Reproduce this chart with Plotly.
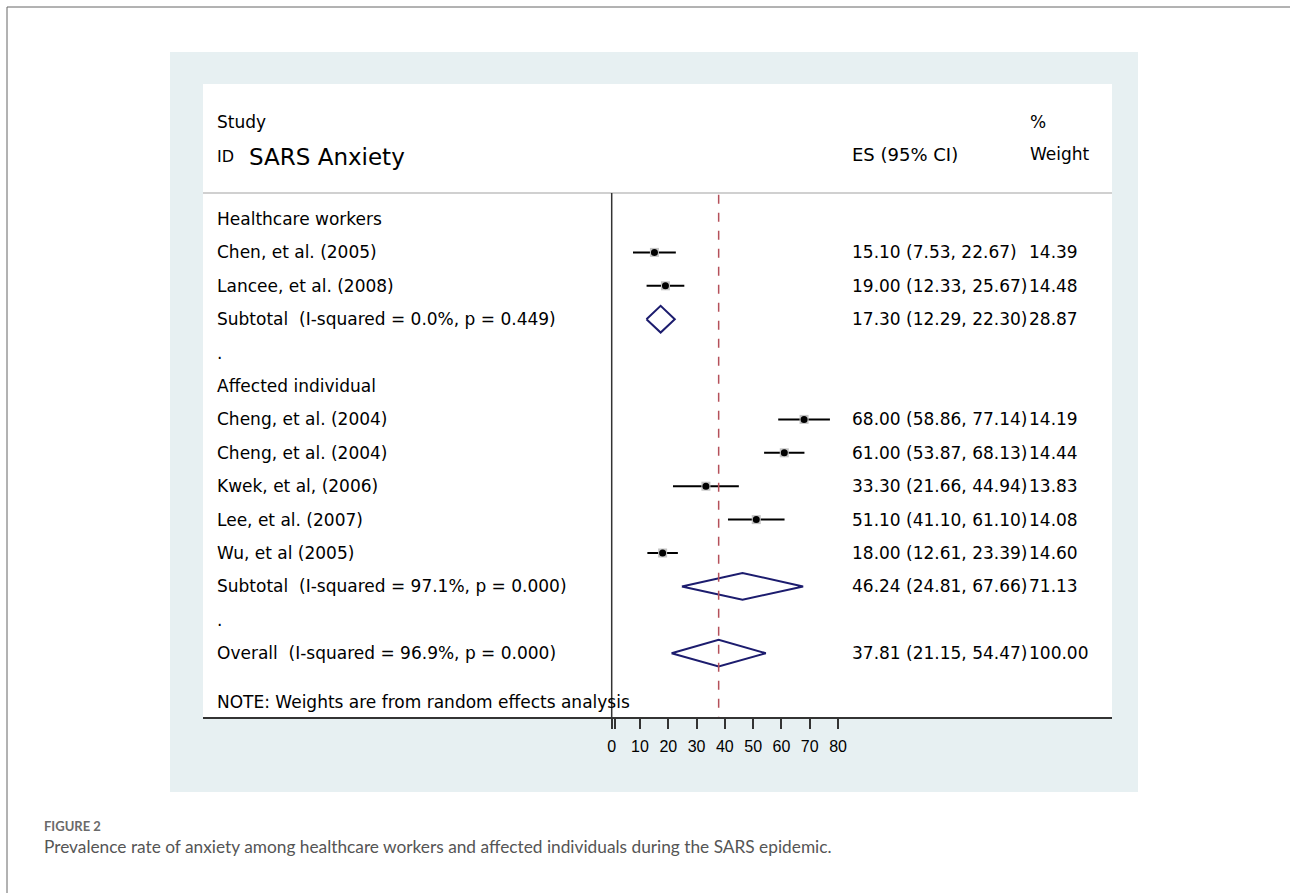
import plotly.graph_objects as go

# ---------------- data ----------------
study_names = ["Chen, et al. (2005)", "Lancee, et al. (2008)",
               "Cheng, et al. (2004)", "Cheng, et al. (2004)",
               "Kwek, et al, (2006)", "Lee, et al. (2007)", "Wu, et al (2005)"]
study_group = ["hcw", "hcw", "aff", "aff", "aff", "aff", "aff"]
study_es = [15.10, 19.00, 68.00, 61.00, 33.30, 51.10, 18.00]
study_lo = [7.53, 12.33, 58.86, 53.87, 21.66, 41.10, 12.61]
study_hi = [22.67, 25.67, 77.14, 68.13, 44.94, 61.10, 23.39]
study_weight = [14.39, 14.48, 14.19, 14.44, 13.83, 14.08, 14.60]

pooled_labels = ["Subtotal  (I-squared = 0.0%, p = 0.449)",
                 "Subtotal  (I-squared = 97.1%, p = 0.000)",
                 "Overall  (I-squared = 96.9%, p = 0.000)"]
pooled_es = [17.30, 46.24, 37.81]
pooled_lo = [12.29, 24.81, 21.15]
pooled_hi = [22.30, 67.66, 54.47]
pooled_weight = [28.87, 71.13, 100.00]

group_titles = ["Healthcare workers", "Affected individual"]
tick_vals = [0, 1, 10, 20, 30, 40, 50, 60, 70, 80]
tick_text = ["0", "", "10", "20", "30", "40", "50", "60", "70", "80"]

# ---------------- layout helpers (pixel geometry) ----------------
W, H = 1290, 893
L, R, T, B = 203, 1112, 84, 717          # white plotting box
X0PX, PXU = 611.7, 2.829                  # pixel of x=0, pixels per unit
ROW0, ROWH = 219.0, 33.4                  # first row centre, row height


def px2x(px):
    return (px - L) / (R - L)


def py2y(py):
    return (B - py) / (B - T)


def py2row(py):
    return (py - ROW0) / ROWH


x_min = (L - X0PX) / PXU
x_max = (R - X0PX) / PXU
row_top = py2row(T)
row_bot = py2row(B)

# build the row table
rows = []  # (kind, label, index)
rows.append(("group", group_titles[0], None))
for i, g in enumerate(study_group):
    if g == "hcw":
        rows.append(("study", study_names[i], i))
rows.append(("pooled", pooled_labels[0], 0))
rows.append(("dot", ".", None))
rows.append(("group", group_titles[1], None))
for i, g in enumerate(study_group):
    if g == "aff":
        rows.append(("study", study_names[i], i))
rows.append(("pooled", pooled_labels[1], 1))
rows.append(("dot", ".", None))
rows.append(("pooled", pooled_labels[2], 2))

TXT = "DejaVu Sans"
fig = go.Figure()
annotations = []
shapes = []

# background panel and white plotting box
shapes.append(dict(type="rect", xref="paper", yref="paper", layer="below",
                   x0=px2x(170), x1=px2x(1138), y0=py2y(792), y1=py2y(52),
                   fillcolor="#e7f0f2", line=dict(width=0)))
shapes.append(dict(type="rect", xref="paper", yref="paper", layer="below",
                   x0=0, x1=1, y0=0, y1=1, fillcolor="white", line=dict(width=0)))
# outer frame lines
shapes.append(dict(type="line", xref="paper", yref="paper",
                   x0=px2x(7), x1=px2x(W + 5), y0=py2y(7), y1=py2y(7),
                   line=dict(color="#666666", width=1)))
shapes.append(dict(type="line", xref="paper", yref="paper",
                   x0=px2x(7), x1=px2x(7), y0=py2y(7), y1=py2y(H + 5),
                   line=dict(color="#666666", width=1)))
# header separator
sep_row = py2row(193)
shapes.append(dict(type="line", xref="paper", yref="y",
                   x0=0, x1=1, y0=sep_row, y1=sep_row,
                   line=dict(color="#c0c0c0", width=1.5)))
# null line at 0
shapes.append(dict(type="line", xref="x", yref="y",
                   x0=0, x1=0, y0=sep_row, y1=row_bot,
                   line=dict(color="#333333", width=1.5)))
# overall effect dashed line
shapes.append(dict(type="line", xref="x", yref="y",
                   x0=pooled_es[2], x1=pooled_es[2], y0=sep_row + 0.05, y1=row_bot,
                   line=dict(color="#b5505a", width=1.5, dash="dash")))

# header texts
annotations += [
    dict(text="Study", x=px2x(215), y=py2row(122), font=dict(size=17)),
    dict(text="ID", x=px2x(215), y=py2row(156), font=dict(size=16)),
    dict(text="SARS Anxiety", x=px2x(247), y=py2row(157), font=dict(size=23)),
    dict(text="ES (95% CI)", x=px2x(850), y=py2row(154), font=dict(size=18)),
    dict(text="%", x=px2x(1028), y=py2row(122), font=dict(size=17)),
    dict(text="Weight", x=px2x(1028), y=py2row(154), font=dict(size=17)),
]

for k, (kind, label, idx) in enumerate(rows):
    annotations.append(dict(text=label, x=px2x(215), y=k, font=dict(size=17)))
    if kind == "study":
        e, lo, hi, w = study_es[idx], study_lo[idx], study_hi[idx], study_weight[idx]
        fig.add_trace(go.Scatter(x=[lo, hi], y=[k, k], mode="lines",
                                 line=dict(color="black", width=2),
                                 showlegend=False, hoverinfo="skip"))
        fig.add_trace(go.Scatter(x=[e], y=[k], mode="markers",
                                 marker=dict(symbol="square", size=9, color="#c4c4c4"),
                                 showlegend=False, hoverinfo="skip"))
        fig.add_trace(go.Scatter(x=[e], y=[k], mode="markers",
                                 marker=dict(symbol="circle", size=7, color="black"),
                                 showlegend=False, hoverinfo="skip"))
    elif kind == "pooled":
        e, lo, hi, w = pooled_es[idx], pooled_lo[idx], pooled_hi[idx], pooled_weight[idx]
        hh = 0.40
        fig.add_trace(go.Scatter(x=[lo, e, hi, e, lo], y=[k, k - hh, k, k + hh, k],
                                 mode="lines", line=dict(color="#1c1c6e", width=2),
                                 showlegend=False, hoverinfo="skip"))
    else:
        continue
    annotations.append(dict(text=f"{e:.2f} ({lo:.2f}, {hi:.2f})", x=px2x(850), y=k,
                            font=dict(size=17)))
    annotations.append(dict(text=f"{w:.2f}", x=px2x(1027), y=k, font=dict(size=17)))

annotations.append(dict(text="NOTE: Weights are from random effects analysis",
                        x=px2x(215), y=py2row(702), font=dict(size=17)))

for a in annotations:
    a.update(xref="paper", yref="y", xanchor="left", yanchor="middle",
             showarrow=False)
    a["font"] = dict(family=TXT, color="black", **a["font"])

# caption
annotations.append(dict(text="FIGURE 2", xref="paper", yref="paper",
                        x=px2x(42), y=py2y(826), xanchor="left", yanchor="middle",
                        showarrow=False,
                        font=dict(family="Lato", size=13, color="#6a6a6a", weight="bold")))
annotations.append(dict(text="Prevalence rate of anxiety among healthcare workers and affected "
                             "individuals during the SARS epidemic.",
                        xref="paper", yref="paper",
                        x=px2x(42), y=py2y(846), xanchor="left", yanchor="middle",
                        showarrow=False,
                        font=dict(family="Lato", size=17.3, color="#555555")))

fig.update_layout(
    width=W, height=H,
    margin=dict(l=L, r=W - R, t=T, b=H - B, pad=0),
    paper_bgcolor="white", plot_bgcolor="white",
    shapes=shapes, annotations=annotations,
    xaxis=dict(range=[x_min, x_max], tickvals=tick_vals, ticktext=tick_text,
               ticks="outside", ticklen=10, tickwidth=1.5, tickcolor="#333333",
               showline=True, linecolor="#333333", linewidth=2, tickangle=0,
               showgrid=False, zeroline=False, ticklabelstandoff=4,
               tickfont=dict(family="Liberation Sans", size=16, color="black")),
    yaxis=dict(range=[row_bot, row_top], visible=False, showgrid=False, zeroline=False),
    showlegend=False,
)

fig.write_html("out.html", config={"displayModeBar": False})
